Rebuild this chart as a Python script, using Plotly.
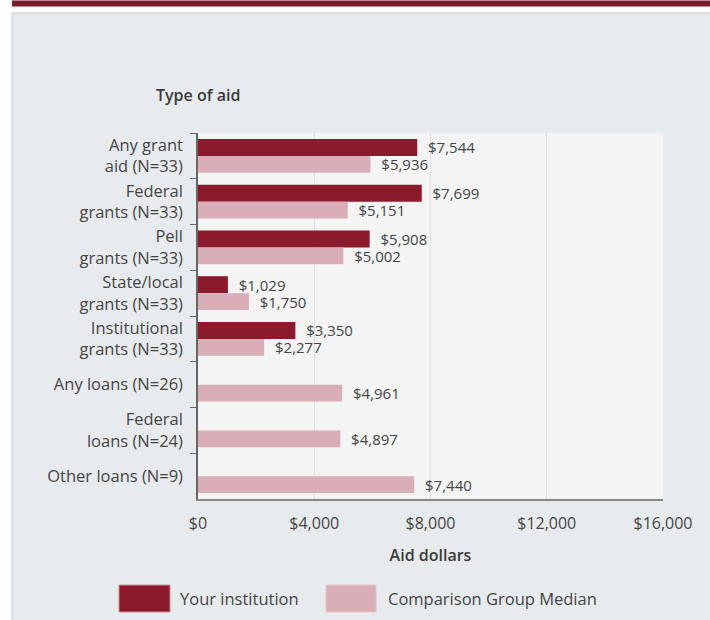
import plotly.graph_objects as go

categories = [
    "Any grant<br>aid (N=33)",
    "Federal<br>grants (N=33)",
    "Pell<br>grants (N=33)",
    "State/local<br>grants (N=33)",
    "Institutional<br>grants (N=33)",
    "Any loans (N=26)",
    "Federal<br>loans (N=24)",
    "Other loans (N=9)",
]
your_institution = [7544, 7699, 5908, 1029, 3350, None, None, None]
comparison_median = [5936, 5151, 5002, 1750, 2277, 4961, 4897, 7440]
x_ticks = [0, 4000, 8000, 12000, 16000]

DARK = "#8b1a2c"
LIGHT = "#d9aeb6"
PANEL = "#e8ebee"
PLOT_BG = "#f4f4f5"
TEXT = "#454545"
FONT = "Open Sans"

W, H = 710, 620
L, R, T, B = 198, 47, 133, 121
PW, PH = W - L - R, H - T - B


def px(x):
    return (x - L) / PW


def py(y):
    return (H - B - y) / PH


def labels(vals):
    # a little gap between bar end and its label
    return ["\u00a0\u00a0" + f"${v:,}" if v is not None else "" for v in vals]


fig = go.Figure()
fig.add_trace(go.Bar(
    y=categories, x=your_institution, orientation="h", name="Your institution",
    marker=dict(color=DARK, line=dict(width=0)),
    text=labels(your_institution), textposition="outside", constraintext="none",
    textfont=dict(size=15, color=TEXT, family=FONT), cliponaxis=False,
))
fig.add_trace(go.Bar(
    y=categories, x=comparison_median, orientation="h", name="Comparison Group Median",
    marker=dict(color=LIGHT, line=dict(width=0)),
    text=labels(comparison_median), textposition="outside", constraintext="none",
    textfont=dict(size=15, color=TEXT, family=FONT), cliponaxis=False,
))

shapes = [
    # white margins outside the grey panel
    dict(type="rect", xref="paper", yref="paper", x0=px(0), x1=px(W), y0=py(0), y1=py(13),
         fillcolor="white", line=dict(width=0), layer="below"),
    dict(type="rect", xref="paper", yref="paper", x0=px(0), x1=px(12), y0=py(0), y1=py(H),
         fillcolor="white", line=dict(width=0), layer="below"),
    dict(type="rect", xref="paper", yref="paper", x0=px(12), x1=px(W + 5), y0=py(13), y1=py(H + 5),
         fillcolor="rgba(0,0,0,0)", line=dict(width=1.5, color="#d6d8da"), layer="below"),
    # maroon bar at the top
    dict(type="rect", xref="paper", yref="paper", x0=px(12), x1=px(W), y0=py(0.5), y1=py(6.5),
         fillcolor="#7f1a2b", line=dict(width=0)),
    # legend swatches
    dict(type="rect", xref="paper", yref="paper", x0=px(119), x1=px(170), y0=py(585), y1=py(612),
         fillcolor=DARK, line=dict(width=1, color="#c98a95")),
    dict(type="rect", xref="paper", yref="paper", x0=px(326), x1=px(376), y0=py(585), y1=py(612),
         fillcolor=LIGHT, line=dict(width=1, color="#e6c3c9")),
]

annotations = [
    dict(text="Type of aid", xref="paper", yref="paper", x=px(198), y=py(95),
         showarrow=False, font=dict(size=16, color="#3a3a3a", family=FONT, weight=600),
         xanchor="center", yanchor="middle"),
    dict(text="Your institution", xref="paper", yref="paper", x=px(178), y=py(598),
         showarrow=False, font=dict(size=16.5, color=TEXT, family=FONT), xanchor="left", yanchor="middle"),
    dict(text="Comparison Group Median", xref="paper", yref="paper", x=px(386), y=py(598),
         showarrow=False, font=dict(size=16.5, color=TEXT, family=FONT), xanchor="left", yanchor="middle"),
]

fig.update_layout(
    width=W, height=H,
    margin=dict(l=L, r=R, t=T, b=B, pad=0),
    barmode="group", bargap=0.26, bargroupgap=0,
    paper_bgcolor=PANEL, plot_bgcolor=PLOT_BG,
    showlegend=False,
    font=dict(family=FONT, color=TEXT, size=15),
    shapes=shapes, annotations=annotations,
)
fig.update_xaxes(
    range=[0, 16000], tickvals=x_ticks, ticktext=[f"${v:,}" for v in x_ticks],
    showgrid=True, gridcolor="#e0e0e2", gridwidth=1, zeroline=False,
    showline=True, linecolor="#8a8a8a", linewidth=1.5, ticks="", ticklabelstandoff=9,
    tickfont=dict(size=16, color=TEXT, family=FONT),
    title=dict(text="Aid dollars", font=dict(size=16, color="#3a3a3a", family=FONT, weight=600), standoff=17),
)
fig.update_yaxes(
    autorange="reversed", tickson="boundaries", ticks="outside", ticklen=6, tickcolor="#666666",
    showline=True, linecolor="#666666", linewidth=1.5, showgrid=False, ticklabelstandoff=10,
    tickfont=dict(size=16.5, color=TEXT, family=FONT),
)

# the page sits flush in the window, as in the reference
fig.write_html(
    "out.html",
    config={"displayModeBar": False},
    post_script="document.body.style.margin='0';document.body.style.overflow='hidden';",
)
